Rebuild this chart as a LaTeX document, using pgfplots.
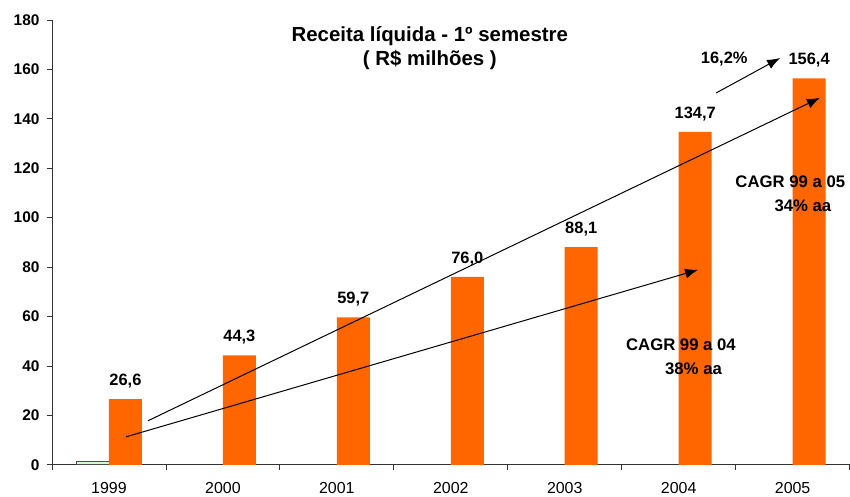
\documentclass[border=0pt]{standalone}
\usepackage{pgfplots}
\pgfplotsset{compat=1.18}
\usepackage{fontspec}
\setmainfont{Liberation Sans}
\usetikzlibrary{arrows.meta}
\definecolor{barorange}{HTML}{FF6600}
\definecolor{bargreen}{HTML}{CCFFCC}
\definecolor{axisgray}{HTML}{333333}
\begin{document}
\begin{tikzpicture}
\path (-52bp,-32bp) (798bp,465bp);
\begin{axis}[
  at={(0,0)}, anchor=south west,
  scale only axis, width=798bp, height=445bp,
  xmin=-0.5, xmax=6.5, ymin=0, ymax=180,
  axis x line*=bottom, axis y line*=left,
  axis line style={axisgray, line width=0.8bp},
  ytick={0,20,...,180},
  xtick={0,1,2,3,4,5,6},
  xticklabels={1999,2000,2001,2002,2003,2004,2005},
  major x tick style={draw=none},
  minor xtick={-0.5,0.5,...,6.5},
  tick align=outside,
  major tick length=5bp, minor tick length=5bp,
  tick style={axisgray, line width=0.8bp},
  /pgf/number format/assume math mode=true,
  yticklabel style={font=\fontsize{15.5}{18}\selectfont\bfseries, xshift=-4bp},
  xticklabel style={font=\fontsize{16}{18}\selectfont, yshift=-9bp},
  clip=false,
]
\addplot[ybar, bar width=33bp, bar shift=-16.5bp, fill=bargreen, draw=black!70, line width=0.8bp]
  coordinates {(0,1.2)};
\addplot[ybar, bar width=33bp, bar shift=16.5bp, fill=barorange, draw=none,
  point meta=explicit symbolic, nodes near coords,
  every node near coord/.append style={font=\fontsize{16.5}{18}\selectfont\bfseries, anchor=south, inner sep=0pt, yshift=11bp, xshift=16.5bp, text=black}]
  coordinates {(0,26.6) [26,6] (1,44.3) [44,3] (2,59.7) [59,7] (3,76.0) [76,0] (4,88.1) [88,1] (5,134.7) [134,7] (6,156.4) [156,4]};
\node[font=\fontsize{20.5}{24}\selectfont\bfseries, align=center] at (axis cs:2.816,168.6) {Receita líquida - 1º semestre\\( R\$ milhões )};
\draw[line width=1bp, -{Latex[length=13bp,width=10bp]}] (axis cs:0.342,17.8) -- (axis cs:6.24,148.5);
\draw[line width=1bp, -{Latex[length=13bp,width=10bp]}] (axis cs:0.149,11.3) -- (axis cs:5.17,78.9);
\draw[line width=1bp, -{Latex[length=13bp,width=10bp]}] (axis cs:5.33,150.5) -- (axis cs:5.89,164.6);
\node[font=\fontsize{16.5}{18}\selectfont\bfseries] at (axis cs:5.40,164.3) {16,2\%};
\node[font=\fontsize{16.8}{24}\selectfont\bfseries, align=center] at (axis cs:5.02,43.8) {CAGR 99 a 04\\\hspace*{1.5em}38\% aa};
\node[font=\fontsize{16.8}{24}\selectfont\bfseries, align=center] at (axis cs:5.98,109.5) {CAGR 99 a 05\\\hspace*{1.5em}34\% aa};
\end{axis}
\end{tikzpicture}
\end{document}
